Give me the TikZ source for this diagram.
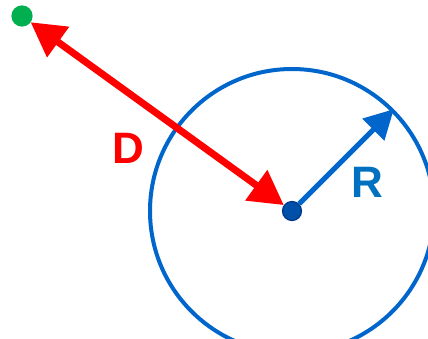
\documentclass[tikz,border=0pt]{standalone}
\usepackage{fontspec}
\setmainfont{Liberation Sans}
\definecolor{PointGreen}{RGB}{0, 176, 80}
\definecolor{DistRed}{RGB}{255, 0, 0}
\definecolor{RangeBlue}{RGB}{0, 102, 204}
\definecolor{LabelBlue}{RGB}{0, 112, 192}
\definecolor{CenterBlue}{RGB}{0, 80, 170}
\definecolor{CenterDark}{RGB}{0, 55, 135}
\usepackage{tikz}
\usetikzlibrary{arrows.meta, positioning}
\tikzset{
  dot/.style={circle, draw=#1!80!black, fill=#1, line width=1.2pt,
              minimum size=19pt, inner sep=0pt},
  ring/.style={circle, draw=#1, line width=4pt, minimum size=284pt, inner sep=0pt},
  darr/.style={{Triangle[length=34pt, width=36pt]}-{Triangle[length=34pt, width=36pt]},
               line width=7pt, color=#1},
  rarr/.style={-{Triangle[length=29pt, width=30pt]}, line width=5pt, color=#1},
  lbl/.style={font=\fontsize{44}{44}\selectfont\bfseries, text=#1, inner sep=0pt},
}
\begin{document}
\begin{tikzpicture}[x=1pt, y=-1pt]
      \useasboundingbox (0,0) rectangle (428,338);

      \node[ring=RangeBlue] (range) at (292,211) {};

      \node[dot=PointGreen, draw=PointGreen, minimum size=20pt] (target) at (22,16) {};
      \node[dot=CenterBlue, draw=CenterDark] (ctr) at (292,211) {};

      \node[lbl=DistRed] (dlbl) at (128,148.5) {D};
      \node[lbl=LabelBlue] (rlbl) at (367.7,182) {R};

      \draw[darr=DistRed]   (target) -- (ctr);
      \draw[rarr=RangeBlue] (ctr) -- (range.45);
    \end{tikzpicture}
\end{document}
